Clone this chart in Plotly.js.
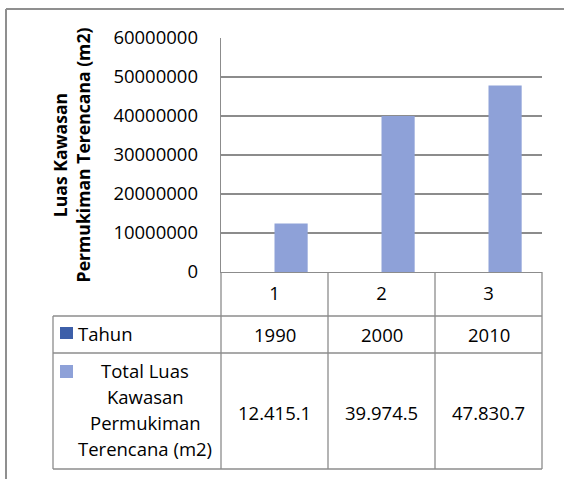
<!DOCTYPE html>
<html><head><meta charset="utf-8">
<script src="https://cdn.plot.ly/plotly-3.0.1.min.js"></script>
<style>html,body{margin:0;padding:0;background:#fff}#chart{width:564px;height:479px}</style>
</head><body><div id="chart"></div>
<script>
// ---- data ----
const categories = ['1', '2', '3'];
const tahun = [1990, 2000, 2010];
const totalLuas = [12415100, 39974500, 47830700];
const totalLuasLabels = ['12.415.1', '39.974.5', '47.830.7'];
const seriesNames = ['Tahun', 'Total Luas<br>Kawasan<br>Permukiman<br>Terencana (m2)'];
const yTitle = 'Luas Kawasan<br>Permukiman Terencana (m2)';
const yTicks = [0, 10000000, 20000000, 30000000, 40000000, 50000000, 60000000];

// ---- geometry / style ----
const W = 564, H = 479;
const M = {l: 221, r: 22, t: 38, b: 207};
const PW = W - M.l - M.r, PH = H - M.t - M.b;
const px = X => (X - M.l) / PW;            // pixel x -> paper x
const py = Y => (H - M.b - Y) / PH;        // pixel y -> paper y
const FONT = 'Open Sans, Noto Sans, sans-serif';
const FS = 18.5;
const LINE = '#8c8c8c';
const colors = ['#3d5fa9', '#8ea1d8'];

const traces = [
  {type: 'bar', name: 'Tahun', x: categories, y: tahun,
   marker: {color: colors[0], line: {width: 0}}, showlegend: false, hoverinfo: 'skip'},
  {type: 'bar', name: 'Total Luas Kawasan Permukiman Terencana (m2)', x: categories, y: totalLuas,
   marker: {color: colors[1], line: {width: 0}}, showlegend: false}
];

const row1 = 316, row2 = 353, row3 = 469, labelLeft = 53;
const shapes = [];
// outer chart frame (top and left edges visible)
shapes.push({type: 'line', xref: 'paper', yref: 'paper', x0: px(6), x1: px(580), y0: py(9), y1: py(9), line: {color: '#8f8f8f', width: 2}});
shapes.push({type: 'line', xref: 'paper', yref: 'paper', x0: px(6), x1: px(6), y0: py(9), y1: py(500), line: {color: '#8f8f8f', width: 2}});
// table horizontal lines
[row1, row2, row3].forEach(Y => shapes.push({type: 'line', xref: 'paper', yref: 'paper',
  x0: px(labelLeft), x1: 1, y0: py(Y), y1: py(Y), line: {color: LINE, width: 1.3}}));
// label column left edge
shapes.push({type: 'line', xref: 'paper', yref: 'paper', x0: px(labelLeft), x1: px(labelLeft),
  y0: py(row1), y1: py(row3), line: {color: LINE, width: 1.3}});
// column boundaries follow the category axis
for (let k = 0; k <= categories.length; k++) {
  shapes.push({type: 'line', xref: 'x domain', yref: 'paper', x0: k / categories.length, x1: k / categories.length,
    y0: 0, y1: py(row3), line: {color: LINE, width: 1.3}});
}
// legend keys inside table
shapes.push({type: 'rect', xref: 'paper', yref: 'paper', x0: px(60), x1: px(73), y0: py(327), y1: py(339),
  fillcolor: colors[0], line: {width: 0}});
shapes.push({type: 'rect', xref: 'paper', yref: 'paper', x0: px(60), x1: px(73), y0: py(365), y1: py(378),
  fillcolor: colors[1], line: {width: 0}});

const cellFont = {family: FONT, size: FS, color: '#000'};
const annotations = [];
categories.forEach((c, i) => {
  annotations.push({xref: 'x', yref: 'paper', x: i, y: py((row1 + row2) / 2), xanchor: 'center', yanchor: 'middle',
    text: String(tahun[i]), showarrow: false, font: cellFont});
  annotations.push({xref: 'x', yref: 'paper', x: i, y: py((row2 + row3) / 2 + 1), xanchor: 'center', yanchor: 'middle',
    text: totalLuasLabels[i], showarrow: false, font: cellFont});
});
annotations.push({xref: 'paper', yref: 'paper', x: px(76), y: py(333), xanchor: 'left', yanchor: 'middle',
  text: seriesNames[0], showarrow: false, font: cellFont});
// wrapped series name, one line per row of text (Excel line spacing)
const nameLines = seriesNames[1].split('<br>');
nameLines.forEach((ln, j) => {
  annotations.push({xref: 'paper', yref: 'paper', x: px(145), y: py(409.5 + (j - (nameLines.length - 1) / 2) * 25.7),
    xanchor: 'center', yanchor: 'middle', text: ln, showarrow: false, font: cellFont});
});

const layout = {
  width: W, height: H, margin: M,
  paper_bgcolor: '#fff', plot_bgcolor: '#fff',
  barmode: 'group', bargap: 0.38, bargroupgap: 0,
  font: {family: FONT, size: FS, color: '#000'},
  xaxis: {type: 'category', range: [-0.5, categories.length - 0.5], showgrid: false, showline: true,
    linecolor: LINE, linewidth: 1.3, ticks: '', ticklabelstandoff: 4,
    tickfont: {family: FONT, size: FS, color: '#000'}, fixedrange: true},
  yaxis: {range: [0, 60000000], tickvals: yTicks, tickformat: 'd', showgrid: true, gridcolor: LINE, gridwidth: 1.3,
    showline: true, linecolor: LINE, linewidth: 1.3, zeroline: false, ticks: '', ticklabelstandoff: 18,
    tickfont: {family: FONT, size: FS, color: '#000'},
    title: {text: yTitle, standoff: 18, font: {family: FONT, size: 17.6, color: '#000', weight: 'bold'}}},
  shapes: shapes, annotations: annotations, showlegend: false
};

Plotly.newPlot('chart', traces, layout, {staticPlot: true, displayModeBar: false});
</script>
</body></html>
